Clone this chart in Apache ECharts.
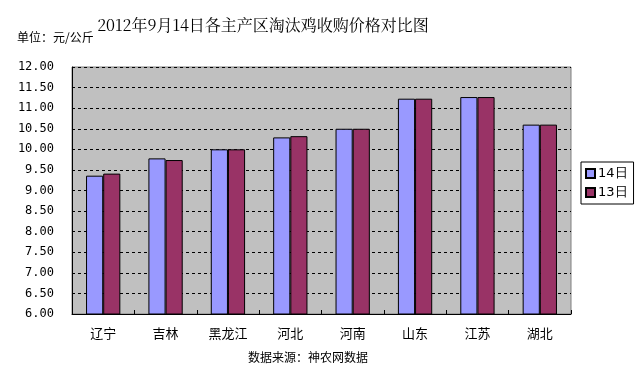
<!DOCTYPE html>
<html><head><meta charset="utf-8">
<script src="https://cdn.jsdelivr.net/npm/echarts@6/dist/echarts.min.js"></script>
<style>html,body{margin:0;padding:0;background:#fff}#c{width:642px;height:372px}</style>
</head><body><div id="c"></div>
<script>
const categories = ['辽宁','吉林','黑龙江','河北','河南','山东','江苏','湖北'];
const seriesNames = ['14日','13日'];
const values14 = [9.36, 9.78, 10.00, 10.29, 10.50, 11.23, 11.27, 10.60];
const values13 = [9.41, 9.74, 10.00, 10.32, 10.50, 11.23, 11.27, 10.60];
const yMin = 6, yMax = 12, yStep = 0.5;
const titleText = '2012年9月14日各主产区淘汰鸡收购价格对比图';
const unitText = '单位：元/公斤';
const sourceText = '数据来源：神农网数据';

const font = '"Noto Sans CJK SC", sans-serif';
const chart = echarts.init(document.getElementById('c'), null, {renderer:'canvas'});
chart.setOption({
  animation: false,
  backgroundColor: '#fff',
  title: [
    {text: titleText, left: 258, top: 12, textAlign: 'center',
     textStyle: {fontFamily: '"Noto Serif CJK SC","DejaVu Serif",serif', fontSize: 16, fontWeight: 'normal', color: '#000'}},
    {text: unitText, left: 12, top: 26, textStyle: {fontFamily: font, fontSize: 12, fontWeight: 'normal', color: '#000'}},
    {text: sourceText, left: 303, top: 346, textAlign: 'center', textStyle: {fontFamily: font, fontSize: 12, fontWeight: 'normal', color: '#000'}}
  ],
  legend: {
    orient: 'vertical', left: 581, top: 162,
    data: seriesNames, icon: 'rect', itemWidth: 9, itemHeight: 9, itemGap: 6,
    borderColor: '#000', borderWidth: 1, backgroundColor: '#fff',
    padding: [5, 6, 5, 4],
    textStyle: {fontFamily: '"DejaVu Sans", sans-serif', fontSize: 13, color: '#000', padding: [0,0,0,-2]}
  },
  grid: {left: 72, right: 71, top: 67, bottom: 58, show: true, backgroundColor: '#C0C0C0', borderColor: '#808080', borderWidth: 1},
  xAxis: {
    type: 'category', data: categories,
    axisLine: {lineStyle: {color: '#000', width: 1}},
    axisTick: {show: true, inside: true, length: 4, lineStyle: {color: '#000'}},
    axisLabel: {fontFamily: font, fontSize: 13, color: '#000', margin: 13}
  },
  yAxis: {
    type: 'value', min: yMin, max: yMax, interval: yStep,
    axisLine: {show: true, lineStyle: {color: '#000', width: 1}},
    axisTick: {show: false},
    axisLabel: {formatter: v => v.toFixed(2), fontFamily: '"DejaVu Sans Mono", monospace', fontSize: 12, color: '#000', margin: 18},
    splitLine: {show: true, lineStyle: {color: '#000', type: [3,3], width: 1}}
  },
  series: [
    {name: seriesNames[0], type: 'bar', data: values14, barGap: '0%', barCategoryGap: '45%',
     itemStyle: {color: '#9999FF', borderColor: '#000', borderWidth: 1}},
    {name: seriesNames[1], type: 'bar', data: values13,
     itemStyle: {color: '#993366', borderColor: '#000', borderWidth: 1}}
  ]
});
</script></body></html>
